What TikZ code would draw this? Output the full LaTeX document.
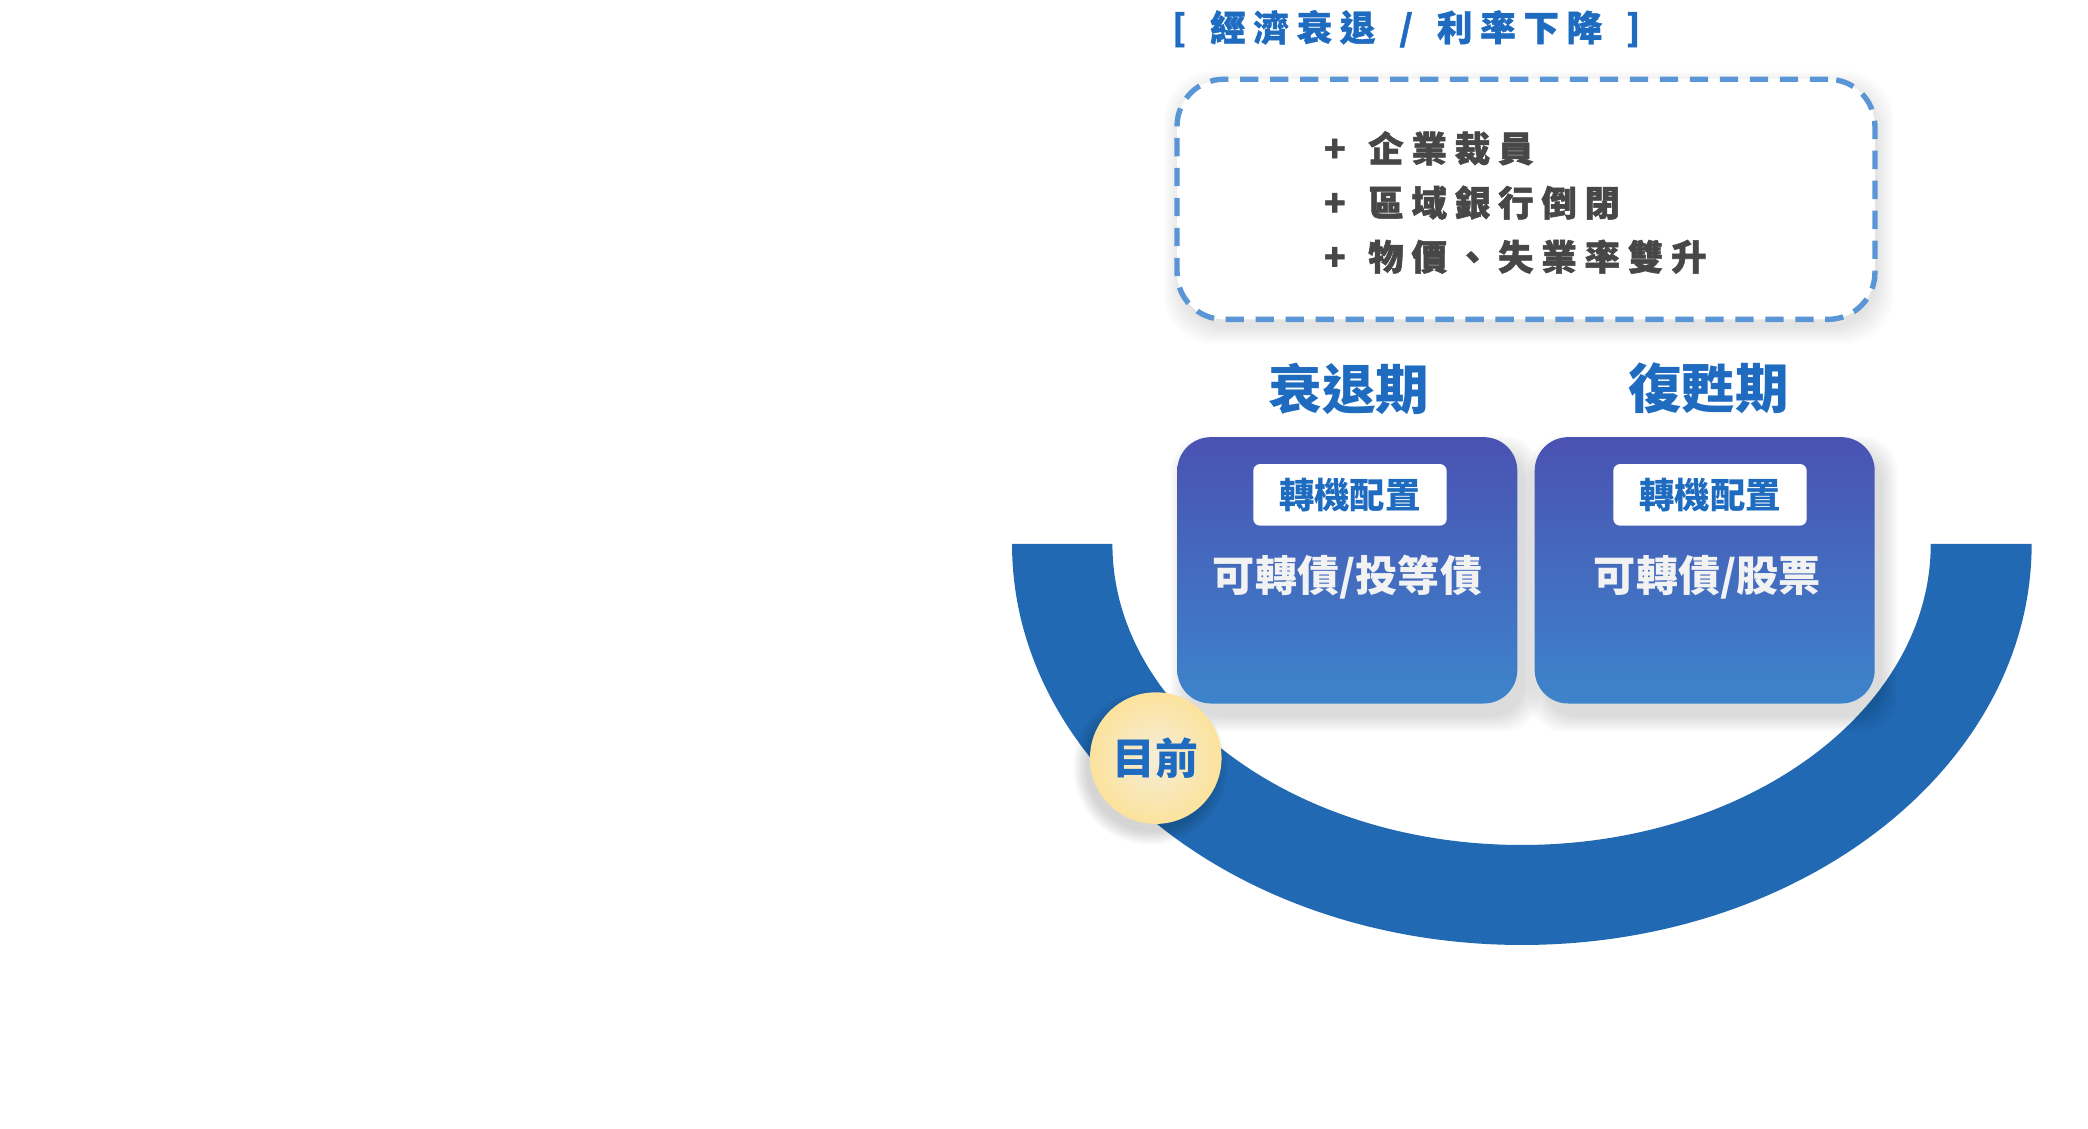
\documentclass[tikz,border=0pt]{standalone}
\usepackage{fontspec}
\newfontfamily\cjk{Noto Sans CJK TC}
\newfontfamily\cjktitle{Noto Sans CJK TC}[LetterSpace=22,FakeBold=1.2]
\newfontfamily\cjklist{Noto Sans CJK TC}[LetterSpace=22,FakeBold=1.5]
\definecolor{ringblue}{HTML}{2169B3}
\definecolor{headblue}{HTML}{1E6BC0}
\definecolor{dashblue}{HTML}{5A96D6}
\definecolor{listgray}{HTML}{474747}
\definecolor{cardtop}{HTML}{4A52B2}
\definecolor{cardbot}{HTML}{3D84CB}
\definecolor{cardtext}{HTML}{F2F2F2}
\definecolor{circin}{HTML}{F5EDD8}
\definecolor{circout}{HTML}{FCE29C}
\tikzset{
  dashbox/.style={draw=dashblue, line width=4pt, dash pattern=on 13.7pt off 8.7pt,
    rounded corners=35pt, fill=white, inner sep=0pt},
  card/.style={rounded corners=25pt, top color=cardtop, bottom color=cardbot,
    minimum width=254pt, minimum height=199pt, inner sep=0pt, draw=none},
  tag/.style={fill=white, rounded corners=5pt, minimum width=144.5pt, minimum height=46pt,
    inner sep=0pt, text=headblue, font=\cjk\bfseries\fontsize{26.5}{30}\selectfont},
  cardtxt/.style={inner sep=0pt, text=cardtext, font=\cjk\bfseries\fontsize{31.5}{36}\selectfont},
  phase/.style={inner sep=0pt, text=headblue, font=\cjk\bfseries\fontsize{40}{46}\selectfont},
  listitem/.style={inner sep=0pt, anchor=west, text=listgray, font=\cjklist\bfseries\fontsize{26.5}{32}\selectfont},
  nowdot/.style={circle, minimum size=98.3pt, inner sep=0pt, inner color=circin, outer color=circout,
    text=headblue, font=\cjk\bfseries\fontsize{32}{36}\selectfont},
}
\begin{document}
\begin{tikzpicture}[x=1pt,y=1pt]
\useasboundingbox (0,0) rectangle (1560,-843.5);
% U-shaped band
\fill[ringblue] (756.1,-406.4) arc[start angle=180,end angle=360,x radius=380.9,y radius=299.6]
  -- (1442.5,-406.4) arc[start angle=0,end angle=-180,x radius=305.7,y radius=224.9] -- cycle;
% soft shadows
\foreach \k in {0,...,8} {
  \fill[black,opacity=0.017,rounded corners=27pt]
    (879.6+6-\k*1.4,-336.7+\k*1.4) rectangle (1133.6+6+\k*1.4,-535.5-\k*1.4);
  \fill[black,opacity=0.017,rounded corners=27pt]
    (1146.8+6-\k*1.4,-336.7+\k*1.4) rectangle (1400.4+6+\k*1.4,-535.5-\k*1.4);
  \fill[black,opacity=0.010,rounded corners=37pt]
    (879.4+2-\k*1.5,-65+\k*1.5) rectangle (1400.8+2+\k*1.5,-245-\k*1.5);
  \fill[black,opacity=0.02] (863.5-4,-566.4-7) circle[radius=48+\k*1.2];
}
% risk box
\node[dashbox, minimum width=521.4pt, minimum height=179.4pt] (risk) at (1140.1,-148.9) {};
\node[inner sep=0pt, text=headblue, font=\cjktitle\bfseries\fontsize{26.5}{30}\selectfont]
  (title) at (1050.6,-21.5) {[ \hspace{6pt}經濟衰退 \hspace{6pt}/ \hspace{6pt}利率下降 \hspace{6pt}]};
\node[listitem] (li1) at (989,-110.8) {+ \hspace{5pt}企業裁員};
\node[listitem] (li2) at (989,-151.4) {+ \hspace{5pt}區域銀行倒閉};
\node[listitem] (li3) at (989,-191.8) {+ \hspace{5pt}物價、失業率雙升};
% phases
\node[phase] (p1) at (1007.9,-290.5) {衰退期};
\node[phase] (p2) at (1276.6,-290.5) {復甦期};
\node[card] (c1) at (1006.6,-426.1) {};
\node[card] (c2) at (1273.6,-426.1) {};
\node[tag] (t1) at (1008.6,-369.7) {轉機配置};
\node[tag] (t2) at (1277.6,-369.7) {轉機配置};
\node[cardtxt] (x1) at (1006.8,-431) {可轉債/投等債};
\node[cardtxt] (x2) at (1275.7,-431) {可轉債/股票};
% current position
\node[nowdot] (now) at (863.5,-566.4) {目前};
\end{tikzpicture}
\end{document}
